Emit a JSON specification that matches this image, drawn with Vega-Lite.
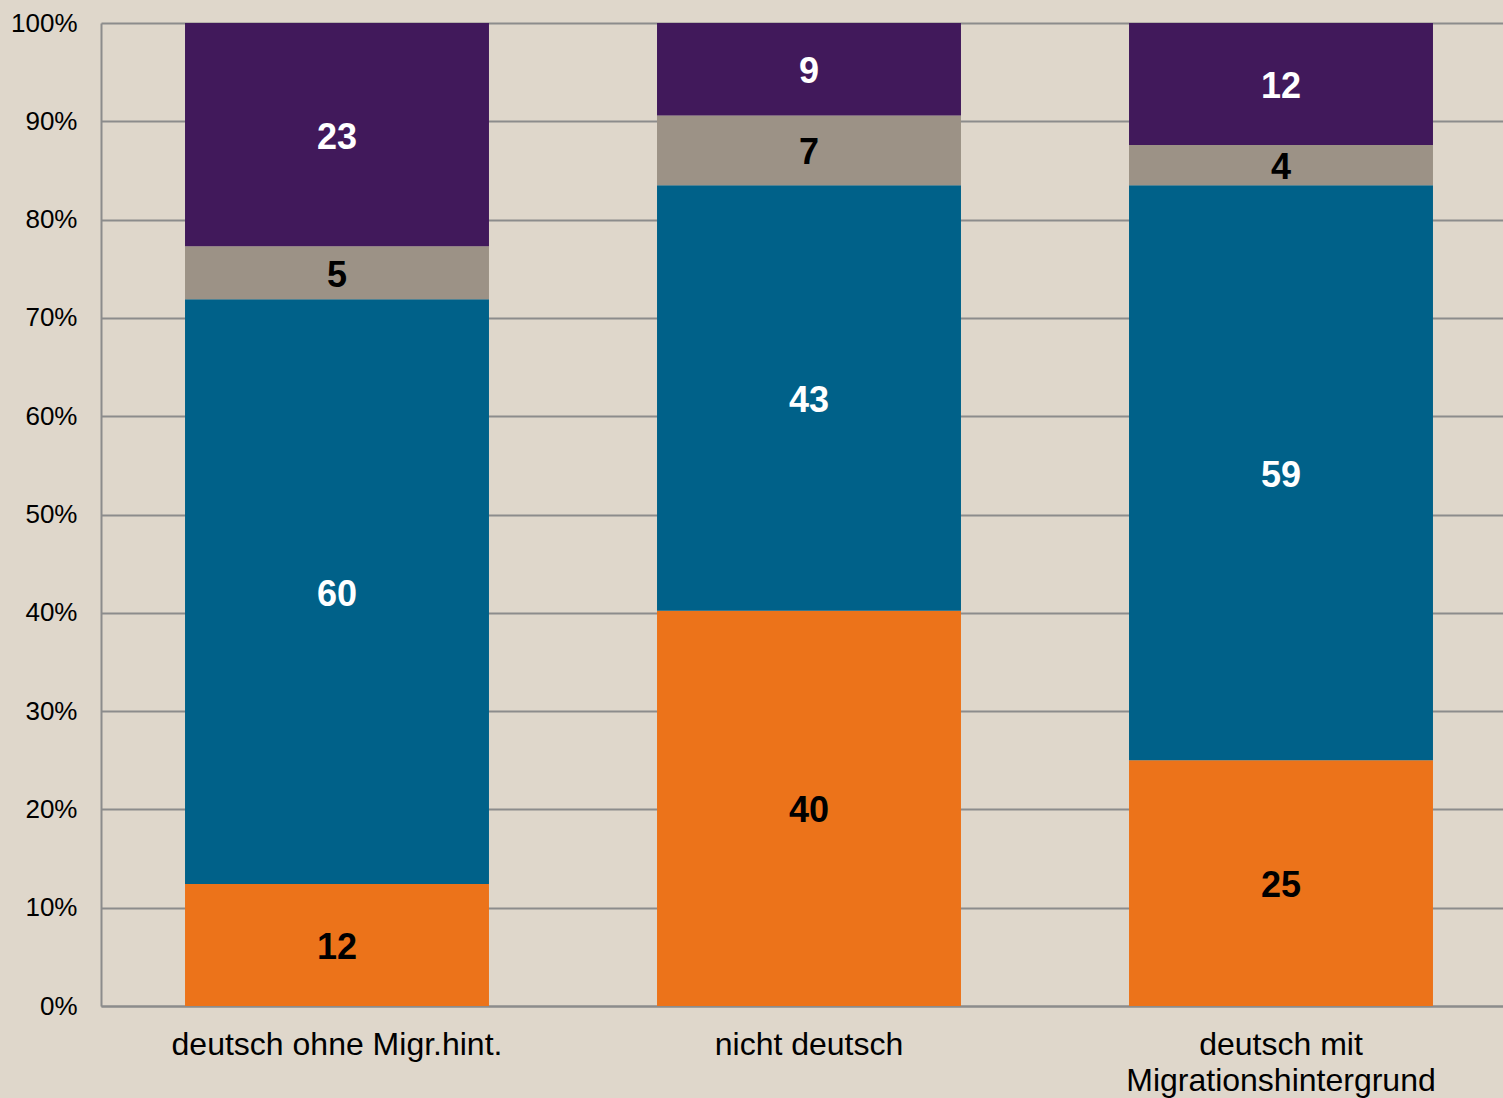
{
  "$schema": "https://vega.github.io/schema/vega-lite/v6.json",
  "autosize": "none",
  "padding": {"left": 101, "top": 23, "right": 0, "bottom": 92},
  "width": 1402,
  "height": 983,
  "background": "#DFD7CB",
  "config": {
    "view": {"stroke": null},
    "font": "Liberation Sans"
  },
  "data": {
    "values": [
      {"cat": "deutsch ohne Migr.hint.", "seg": "A", "order": 1, "value": 12.4},
      {"cat": "deutsch ohne Migr.hint.", "seg": "B", "order": 2, "value": 59.5},
      {"cat": "deutsch ohne Migr.hint.", "seg": "C", "order": 3, "value": 5.4},
      {"cat": "deutsch ohne Migr.hint.", "seg": "D", "order": 4, "value": 22.7},
      {"cat": "nicht deutsch", "seg": "A", "order": 1, "value": 40.2},
      {"cat": "nicht deutsch", "seg": "B", "order": 2, "value": 43.3},
      {"cat": "nicht deutsch", "seg": "C", "order": 3, "value": 7.1},
      {"cat": "nicht deutsch", "seg": "D", "order": 4, "value": 9.4},
      {"cat": "deutsch mit Migrationshintergrund", "seg": "A", "order": 1, "value": 25.0},
      {"cat": "deutsch mit Migrationshintergrund", "seg": "B", "order": 2, "value": 58.5},
      {"cat": "deutsch mit Migrationshintergrund", "seg": "C", "order": 3, "value": 4.1},
      {"cat": "deutsch mit Migrationshintergrund", "seg": "D", "order": 4, "value": 12.4}
    ]
  },
  "transform": [
    {"stack": "value", "groupby": ["cat"], "sort": [{"field": "order", "order": "ascending"}], "as": ["y0", "y1"]},
    {"calculate": "(datum.y0 + datum.y1) / 2", "as": "mid"}
  ],
  "encoding": {
    "x": {
      "field": "cat",
      "type": "nominal",
      "sort": ["deutsch ohne Migr.hint.", "nicht deutsch", "deutsch mit Migrationshintergrund"],
      "scale": {"range": [0, 1416], "paddingInner": 0.356, "paddingOuter": 0.178},
      "axis": {
        "title": null,
        "labelAngle": 0,
        "labelFontSize": 32,
        "labelColor": "#000000",
        "labelPadding": 23,
        "labelLineHeight": 36,
        "labelLimit": 0,
        "labelExpr": "datum.value == 'deutsch mit Migrationshintergrund' ? ['deutsch mit', 'Migrationshintergrund'] : datum.value",
        "ticks": false,
        "domainColor": "#8C8C8C",
        "domainWidth": 2,
        "labelBaseline": "top"
      }
    }
  },
  "layer": [
    {
      "mark": {"type": "bar"},
      "encoding": {
        "y": {
          "field": "y0",
          "type": "quantitative",
          "scale": {"domain": [0, 100], "nice": false},
          "axis": {
            "title": null,
            "values": [0, 10, 20, 30, 40, 50, 60, 70, 80, 90, 100],
            "labelExpr": "datum.value + '%'",
            "labelFontSize": 26,
            "labelColor": "#000000",
            "labelPadding": 24,
            "ticks": false,
            "grid": true,
            "gridColor": "#8C8C8C",
            "gridWidth": 2,
            "domainColor": "#8C8C8C",
            "domainWidth": 2
          }
        },
        "y2": {"field": "y1"},
        "color": {
          "field": "seg",
          "type": "nominal",
          "scale": {"domain": ["A", "B", "C", "D"], "range": ["#EC731A", "#006189", "#9C9286", "#41195B"]},
          "legend": null
        }
      }
    },
    {
      "mark": {"type": "text", "fontSize": 36, "fontWeight": "bold", "baseline": "middle", "align": "center", "dy": 3},
      "encoding": {
        "y": {"field": "mid", "type": "quantitative"},
        "text": {"field": "value", "type": "quantitative", "format": ".0f"},
        "color": {
          "condition": {"test": "datum.seg == 'B' || datum.seg == 'D'", "value": "#FFFFFF"},
          "value": "#000000"
        }
      }
    }
  ]
}
